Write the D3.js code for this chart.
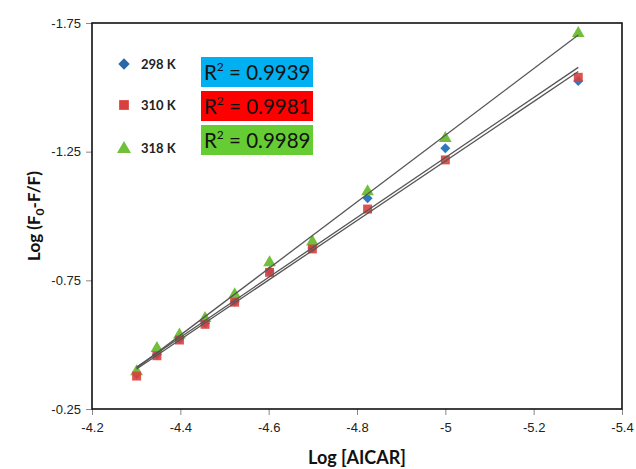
<!DOCTYPE html>
<html>
<head>
<meta charset="utf-8">
<script src="https://cdn.jsdelivr.net/npm/d3@7"></script>
<style>
  body { margin: 0; background: #fff; }
  svg { font-family: Lato, "Open Sans", sans-serif; }
</style>
</head>
<body>
<svg id="chart" width="636" height="469"></svg>
<script>
// log [AICAR] values
const logConc = [-4.301, -4.347, -4.398, -4.456, -4.523, -4.602, -4.699, -4.824, -5.0, -5.301];
// log (F0-F/F) for each temperature
const y298 = [-0.386, -0.462, -0.522, -0.583, -0.668, -0.786, -0.876, -1.069, -1.263, -1.525];
const y310 = [-0.378, -0.457, -0.518, -0.579, -0.665, -0.781, -0.872, -1.027, -1.218, -1.539];
const y318 = [-0.395, -0.486, -0.538, -0.602, -0.695, -0.819, -0.900, -1.095, -1.302, -1.710];
const seriesNames = ['298 K', '310 K', '318 K'];
const r2Labels = ['0.9939', '0.9981', '0.9989'];
const xTicks = [-4.2, -4.4, -4.6, -4.8, -5, -5.2, -5.4];
const yTicks = [-1.75, -1.25, -0.75, -0.25];

const colors = ['#2e78c2', '#d9403c', '#72bf3c'];
const boxColors = ['#00b0f0', '#ff0000', '#66cc33'];
const shapes = [d3.symbolSquare, d3.symbolSquare, d3.symbolTriangle];
const rotate = [45, 0, 0];
const sizes = [50, 80, 70];

const svg = d3.select('#chart');
const margin = { left: 92, top: 23, right: 14, bottom: 60 };
const W = 636, H = 469;

const x = d3.scaleLinear().domain([-4.2, -5.4]).range([margin.left, W - margin.right]);
const y = d3.scaleLinear().domain([-0.25, -1.75]).range([H - margin.bottom, margin.top]);

// axes
const xAxis = svg.append('g')
  .attr('transform', `translate(0,${y(-0.25)})`)
  .call(d3.axisBottom(x).tickValues(xTicks).tickSize(6).tickPadding(8).tickFormat(d => String(d)));
const yAxis = svg.append('g')
  .attr('transform', `translate(${x(-4.2)},0)`)
  .call(d3.axisLeft(y).tickValues(yTicks).tickSize(6).tickPadding(5).tickFormat(d => d.toFixed(2)));

[xAxis, yAxis].forEach(a => {
  a.select('.domain').remove();
  a.selectAll('.tick line').attr('stroke', '#888').attr('stroke-width', 1);
  a.selectAll('.tick text').attr('fill', '#222').style('font-size', '13px');
});

// plot frame
svg.append('rect')
  .attr('x', x(-4.2)).attr('y', y(-1.75))
  .attr('width', x(-5.4) - x(-4.2)).attr('height', y(-0.25) - y(-1.75))
  .attr('fill', 'none').attr('stroke', '#111').attr('stroke-width', 1.6);

const series = [y298, y310, y318];

// markers: blue, green, red
const order = [0, 2, 1];
order.forEach(si => {
  svg.append('g').selectAll('path')
    .data(logConc.map((c, i) => [c, series[si][i]]))
    .enter()
    .append('path')
    .attr('d', d3.symbol().type(shapes[si]).size(sizes[si]))
    .attr('transform', d => `translate(${x(d[0])},${y(d[1])}) rotate(${rotate[si]})`)
    .attr('fill', colors[si])
    .attr('fill-opacity', si === 1 ? 0.9 : 1);
});

// linear trendlines
function fit(xs, ys) {
  const mx = d3.mean(xs), my = d3.mean(ys);
  const b = d3.sum(xs, (v, i) => (v - mx) * (ys[i] - my)) / d3.sum(xs, v => (v - mx) * (v - mx));
  return { b, a: my - b * mx };
}
series.forEach(ys => {
  const f = fit(logConc, ys);
  const x0 = d3.max(logConc), x1 = d3.min(logConc);
  svg.append('line')
    .attr('x1', x(x0)).attr('y1', y(f.a + f.b * x0))
    .attr('x2', x(x1)).attr('y2', y(f.a + f.b * x1))
    .attr('stroke', '#555').attr('stroke-width', 1.3);
});

// legend
const legendY = [64, 105, 148];
seriesNames.forEach((name, i) => {
  svg.append('path')
    .attr('d', d3.symbol().type(shapes[i]).size(sizes[i] + 15))
    .attr('transform', `translate(124,${legendY[i] + (i === 2 ? 1 : 0)}) rotate(${rotate[i]})`)
    .attr('fill', i === 0 ? '#2a67a8' : colors[i]);
  svg.append('text')
    .attr('x', 141).attr('y', legendY[i] + 5)
    .style('font-size', '13px').style('font-weight', 'bold')
    .attr('fill', '#222')
    .text(name);
});

// R² boxes
const boxTop = [57, 91, 125];
r2Labels.forEach((r, i) => {
  svg.append('rect')
    .attr('x', 201).attr('y', boxTop[i])
    .attr('width', 112).attr('height', 30)
    .attr('fill', boxColors[i]);
  const t = svg.append('text')
    .attr('x', 204).attr('y', boxTop[i] + 23)
    .style('font-size', '20.5px').attr('fill', '#111');
  t.append('tspan').text('R');
  t.append('tspan').text('2').attr('dy', -9).style('font-size', '12px');
  t.append('tspan').text(' = ' + r).attr('dy', 9);
});

// axis titles
svg.append('text')
  .attr('x', 357).attr('y', 464)
  .attr('text-anchor', 'middle')
  .style('font-size', '18px').style('font-weight', 'bold')
  .attr('fill', '#111')
  .text('Log [AICAR]');

const yt = svg.append('text')
  .attr('transform', `translate(40,216) rotate(-90)`)
  .attr('text-anchor', 'middle')
  .style('font-size', '17px').style('font-weight', 'bold')
  .attr('fill', '#111');
yt.append('tspan').text('Log (F');
yt.append('tspan').text('0').attr('dy', 4).style('font-size', '12px');
yt.append('tspan').text('-F/F)').attr('dy', -4);
</script>
</body>
</html>
